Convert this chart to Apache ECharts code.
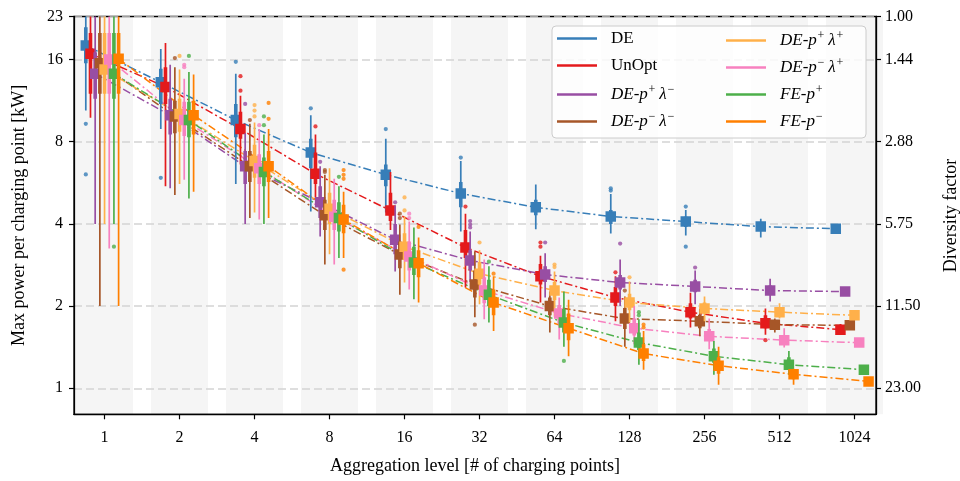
<!DOCTYPE html>
<html><head><meta charset="utf-8">
<script src="https://cdn.jsdelivr.net/npm/echarts@6/dist/echarts.min.js"></script>
<style>html,body{margin:0;padding:0;background:#fff}#c{width:960px;height:481px}</style>
</head><body><div id="c"></div>
<script>
// ---------- data ----------
const levels = [1, 2, 4, 8, 16, 32, 64, 128, 256, 512, 1024];
const yTicks = [1, 2, 4, 8, 16, 23];
const peakRef = 23; // diversity factor = peakRef / power
const seriesNames = ['DE', 'UnOpt', 'DE-p+λ-', 'DE-p-λ-', 'DE-p+λ+', 'DE-p-λ+', 'FE-p+', 'FE-p-'];
const colors = ['#377eb8', '#e41a1c', '#984ea3', '#a65628', '#ffb04a', '#f781bf', '#4daf4a', '#ff7f00'];
const dodge = [-0.25, -0.1875, -0.125, -0.0625, 0, 0.0625, 0.125, 0.1875]; // in octaves

// DE
const deMed = [18.0, 13.2, 9.6, 7.3, 6.06, 5.17, 4.6, 4.26, 4.08, 3.91, 3.84];
const deQ1  = [15.5, 11.0, 8.3, 6.4, 5.5, 4.6, 4.3, 4.0, 3.9, 3.8, 3.8];
const deQ3  = [21.0, 14.8, 11.0, 8.2, 6.6, 5.7, 4.9, 4.5, 4.25, 4.0, 3.88];
const deLo  = [10.4, 8.9, 5.6, 4.44, 4.4, 3.75, 3.82, 3.69, 3.63, 3.57, 3.74];
const deHi  = [30, 17.5, 14.2, 10.0, 8.2, 6.8, 5.58, 5.15, 4.5, 4.18, 3.95];
const deOut = [[0, 9.3], [0, 6.07], [1, 5.9], [2, 15.7], [3, 10.6], [4, 8.9], [5, 7.0], [7, 5.3], [7, 5.4], [8, 4.63], [8, 3.3]];
// UnOpt
const unMed = [16.8, 12.7, 8.9, 6.1, 4.48, 3.28, 2.57, 2.15, 1.9, 1.73, 1.64];
const unQ1  = [12.0, 11.0, 8.2, 5.6, 4.1, 3.0, 2.4, 2.0, 1.8, 1.66, 1.61];
const unQ3  = [20.0, 15.0, 10.3, 7.3, 5.2, 3.8, 2.85, 2.35, 2.05, 1.85, 1.68];
const unLo  = [9.8, 5.5, 6.6, 5.0, 3.8, 2.34, 2.06, 1.76, 1.67, 1.57, 1.58];
const unHi  = [30, 18.4, 11.8, 8.5, 6.2, 4.36, 3.06, 2.57, 2.24, 1.96, 1.72];
const unOut = [[2, 13.9], [2, 12.3], [3, 9.1], [5, 4.63], [6, 3.42], [6, 3.3], [7, 2.66], [9, 1.5]];
// DE-p+λ-
const ppmMed = [14.2, 10.0, 6.5, 4.8, 3.5, 2.94, 2.61, 2.44, 2.36, 2.28, 2.26];
const ppmQ1  = [11.5, 8.5, 5.6, 4.2, 3.1, 2.7, 2.45, 2.3, 2.25, 2.2, 2.22];
const ppmQ3  = [17.0, 11.5, 7.4, 5.5, 4.0, 3.2, 2.8, 2.6, 2.5, 2.38, 2.3];
const ppmLo  = [4.0, 5.4, 4.0, 3.6, 2.68, 2.45, 2.15, 2.0, 2.03, 2.08, 2.18];
const ppmHi  = [30, 15.3, 8.6, 6.5, 4.67, 3.75, 3.12, 2.96, 2.7, 2.52, 2.34];
const ppmOut = [[2, 11.0], [3, 6.75], [4, 4.8], [5, 3.98], [5, 3.88], [5, 4.1], [6, 3.42], [7, 3.39], [8, 2.77]];
// DE-p-λ-
const pmmMed = [15.5, 9.9, 6.5, 4.3, 3.09, 2.4, 2.0, 1.8, 1.76, 1.71, 1.7];
const pmmQ1  = [12.0, 8.6, 5.7, 3.8, 2.75, 2.15, 1.85, 1.65, 1.66, 1.65, 1.67];
const pmmQ3  = [20.0, 11.3, 7.4, 4.9, 3.45, 2.7, 2.15, 1.97, 1.86, 1.76, 1.73];
const pmmLo  = [2.0, 5.1, 4.2, 2.84, 2.2, 1.82, 1.6, 1.42, 1.55, 1.6, 1.64];
const pmmHi  = [30, 15.0, 9.3, 6.05, 3.98, 3.17, 2.26, 2.17, 1.95, 1.8, 1.75];
const pmmOut = [[1, 16.2], [2, 9.6], [3, 6.3], [3, 6.2], [4, 4.36], [4, 4.2], [5, 1.71], [7, 2.28]];
// DE-p+λ+
const pppMed = [14.7, 10.1, 6.8, 4.55, 3.3, 2.63, 2.28, 2.06, 1.96, 1.9, 1.85];
const pppQ1  = [12.0, 8.7, 5.9, 4.0, 2.95, 2.4, 2.1, 1.93, 1.88, 1.85, 1.82];
const pppQ3  = [20.0, 11.5, 7.8, 5.2, 3.7, 2.9, 2.45, 2.22, 2.06, 1.96, 1.88];
const pppLo  = [4.0, 5.6, 4.4, 3.1, 2.44, 2.03, 1.83, 1.74, 1.76, 1.8, 1.8];
const pppHi  = [30, 14.7, 9.4, 6.4, 4.26, 3.2, 2.68, 2.46, 2.17, 2.05, 1.9];
const pppOut = [[1, 16.5], [2, 10.9], [2, 10.4], [2, 9.9], [4, 5.0], [4, 4.48], [5, 3.42], [6, 2.84], [6, 2.78], [7, 2.55]];
// DE-p-λ+
const pmpMed = [16.0, 9.6, 6.4, 4.25, 3.04, 2.28, 1.88, 1.66, 1.55, 1.5, 1.47];
const pmpQ1  = [12.0, 8.4, 5.6, 3.8, 2.7, 2.05, 1.72, 1.56, 1.49, 1.46, 1.45];
const pmpQ3  = [20.0, 11.2, 7.2, 4.9, 3.45, 2.55, 2.02, 1.8, 1.65, 1.56, 1.49];
const pmpLo  = [3.25, 5.8, 4.15, 2.84, 2.3, 1.79, 1.51, 1.45, 1.39, 1.41, 1.44];
const pmpHi  = [30, 13.6, 8.9, 5.85, 4.08, 2.96, 2.15, 2.0, 1.8, 1.66, 1.5];
const pmpOut = [[1, 15.3], [1, 15.0], [2, 9.2], [4, 4.36], [4, 4.2]];
// FE-p+
const fepMed = [14.2, 9.6, 6.2, 4.2, 2.89, 2.2, 1.74, 1.47, 1.31, 1.22, 1.17];
const fepQ1  = [11.5, 8.3, 5.5, 3.75, 2.6, 2.0, 1.6, 1.38, 1.24, 1.18, 1.15];
const fepQ3  = [20.0, 11.2, 7.0, 4.8, 3.3, 2.5, 1.95, 1.6, 1.4, 1.3, 1.19];
const fepLo  = [4.0, 4.96, 4.0, 3.0, 2.12, 1.74, 1.42, 1.22, 1.12, 1.12, 1.14];
const fepHi  = [30, 14.4, 8.5, 5.5, 3.88, 2.8, 2.26, 1.79, 1.49, 1.37, 1.2];
const fepOut = [[0, 3.3], [1, 16.5], [2, 9.9], [2, 9.2], [3, 5.95], [5, 2.91], [6, 1.26], [7, 1.85], [7, 1.9]];
// FE-p-
const femMed = [16.1, 10.0, 6.5, 4.15, 2.87, 2.06, 1.66, 1.34, 1.21, 1.125, 1.06];
const femQ1  = [12.0, 8.5, 5.7, 3.7, 2.55, 1.85, 1.5, 1.26, 1.13, 1.08, 1.04];
const femQ3  = [20.0, 11.3, 7.4, 4.7, 3.2, 2.3, 1.88, 1.45, 1.3, 1.16, 1.08];
const femLo  = [2.0, 5.25, 4.2, 3.0, 2.06, 1.62, 1.31, 1.17, 1.03, 1.03, 1.02];
const femHi  = [30, 14.1, 8.9, 5.25, 3.57, 2.57, 2.11, 1.62, 1.42, 1.18, 1.1];
const femOut = [[2, 11.1], [2, 9.7], [3, 6.3], [3, 6.05], [3, 5.85], [3, 2.72], [4, 3.9], [5, 2.63], [7, 1.71], [7, 1.67]];

const allData = [
  [deMed, deQ1, deQ3, deLo, deHi, deOut],
  [unMed, unQ1, unQ3, unLo, unHi, unOut],
  [ppmMed, ppmQ1, ppmQ3, ppmLo, ppmHi, ppmOut],
  [pmmMed, pmmQ1, pmmQ3, pmmLo, pmmHi, pmmOut],
  [pppMed, pppQ1, pppQ3, pppLo, pppHi, pppOut],
  [pmpMed, pmpQ1, pmpQ3, pmpLo, pmpHi, pmpOut],
  [fepMed, fepQ1, fepQ3, fepLo, fepHi, fepOut],
  [femMed, femQ1, femQ3, femLo, femHi, femOut]
];

// ---------- chart ----------
const FONT = 'Liberation Serif';
const chart = echarts.init(document.getElementById('c'), null, {renderer: 'canvas'});
const xpos = (g, s) => levels[g] * Math.pow(2, dodge[s]);
const bandHalf = 0.38;

function renderBand(params, api) {
  const l = api.value(0);
  const cs = params.coordSys;
  const a = api.coord([l * Math.pow(2, -bandHalf), 1])[0];
  const b = api.coord([l * Math.pow(2, bandHalf), 1])[0];
  return {type: 'rect', shape: {x: a, y: cs.y, width: b - a, height: cs.height},
          style: {fill: '#f5f5f5'}};
}
function renderBox(params, api) {
  const x = api.value(0);
  const pLo = api.coord([x, api.value(1)]);
  const pQ1 = api.coord([x, api.value(2)]);
  const pMed = api.coord([x, api.value(3)]);
  const pQ3 = api.coord([x, api.value(4)]);
  const pHi = api.coord([x, api.value(5)]);
  const color = api.visual('color');
  const s = 10.5;
  return {type: 'group', children: [
    {type: 'line', shape: {x1: pLo[0], y1: pLo[1], x2: pHi[0], y2: pHi[1]}, style: {stroke: color, lineWidth: 1.7}},
    {type: 'line', shape: {x1: pQ1[0], y1: pQ1[1], x2: pQ3[0], y2: pQ3[1]}, style: {stroke: color, lineWidth: 3.6}},
    {type: 'rect', shape: {x: pMed[0] - s / 2, y: pMed[1] - s / 2, width: s, height: s}, style: {fill: color}}
  ]};
}

const series = [{
  type: 'custom', name: 'bands', silent: true, z: -1,
  renderItem: renderBand, data: levels.map(l => [l]), encode: {x: 0}
}];
seriesNames.forEach((name, s) => {
  const [med, q1, q3, lo, hi, out] = allData[s];
  series.push({
    type: 'line', name: name, color: colors[s], z: 2, symbol: 'none',
    lineStyle: {width: 1.5, type: [8, 3, 2, 3], color: colors[s]},
    data: levels.map((l, g) => [xpos(g, s), med[g]])
  });
});
seriesNames.forEach((name, s) => {
  const [med, q1, q3, lo, hi, out] = allData[s];
  series.push({
    type: 'custom', name: name + ' box', z: 3, clip: true,
    itemStyle: {color: colors[s]},
    renderItem: renderBox,
    encode: {x: 0, y: [1, 2, 3, 4, 5]},
    data: levels.map((l, g) => [xpos(g, s), lo[g], q1[g], med[g], q3[g], hi[g]])
  });
  series.push({
    type: 'scatter', name: name + ' out', z: 3, symbolSize: 4.2,
    itemStyle: {color: colors[s]},
    data: out.map(([g, v]) => [xpos(g, s), v])
  });
});

const legendPos = [[557, 30], [557, 57], [557, 84], [557, 111], [726, 30], [726, 57], [726, 84], [726, 111]];
const rich = {
  n: {fontFamily: FONT, fontSize: 17, color: '#000'},
  i: {fontFamily: FONT, fontSize: 17, fontStyle: 'italic', color: '#000'},
  s: {fontFamily: FONT, fontSize: 12, fontStyle: 'italic', color: '#000', padding: [0, 0, 9, 0]}
};
function legendFmt(name) {
  if (name === 'DE' || name === 'UnOpt') return '{n|' + name + '}';
  const m = name.match(/^(DE|FE)-p([+-])(?:λ([+-]))?$/);
  const sup = c => (c === '+' ? '+' : '\u2212');
  let str = '{i|' + m[1] + '-p}{s|' + sup(m[2]) + '}';
  if (m[3]) str += '{i|\u2009λ}{s|' + sup(m[3]) + '}';
  return str;
}
const legends = seriesNames.map((name, s) => ({
  data: [name], left: legendPos[s][0], top: legendPos[s][1], padding: 0,
  icon: 'rect', itemWidth: 40, itemHeight: 2.5, selectedMode: false,
  formatter: legendFmt,
  textStyle: {fontFamily: FONT, fontSize: 17, color: '#000', padding: [0, 0, 0, 9], rich: rich}
}));

const axisFont = {fontFamily: FONT, fontSize: 16, color: '#000'};
const option = {
  animation: false,
  backgroundColor: '#fff',
  grid: {left: 74, right: 84, top: 16.5, bottom: 66.7, show: true, borderColor: '#000', borderWidth: 1.3,
         backgroundColor: 'transparent', containLabel: false, outerBoundsMode: 'none'},
  graphic: [{
    type: 'rect', z: 50, shape: {x: 552, y: 26, width: 314, height: 112, r: 4},
    style: {fill: 'rgba(255,255,255,0.8)', stroke: '#cccccc', lineWidth: 1}
  }],
  legend: legends.map(l => Object.assign(l, {z: 60})),
  xAxis: {
    type: 'log', logBase: 2, min: 0.754, max: 1249,
    name: 'Aggregation level [# of charging points]', nameLocation: 'middle', nameGap: 43,
    nameTextStyle: {fontFamily: FONT, fontSize: 18, color: '#000'},
    axisLine: {lineStyle: {color: '#000', width: 1.3}},
    axisTick: {customValues: levels, length: 5, lineStyle: {color: '#000', width: 1.2}},
    axisLabel: Object.assign({customValues: levels, margin: 15, formatter: v => String(Math.round(v))}, axisFont),
    splitLine: {show: false}
  },
  yAxis: [{
    type: 'log', logBase: 2, min: 0.803, max: 23,
    name: 'Max power per charging point [kW]', nameLocation: 'middle', nameGap: 46,
    nameTextStyle: {fontFamily: FONT, fontSize: 18, color: '#000'},
    axisLine: {show: true, lineStyle: {color: '#000', width: 1.3}},
    axisTick: {show: true, customValues: yTicks, length: 5, lineStyle: {color: '#000', width: 1.2}},
    axisLabel: Object.assign({customValues: yTicks, margin: 11, formatter: v => String(Math.round(v))}, axisFont),
    splitLine: {show: true, lineStyle: {color: '#d4d4d4', width: 1.5, type: [8, 4]}}
  }, {
    type: 'log', logBase: 2, min: 0.803, max: 23, position: 'right',
    name: 'Diversity factor', nameLocation: 'middle', nameGap: 66,
    nameTextStyle: {fontFamily: FONT, fontSize: 18, color: '#000'},
    axisLine: {show: true, lineStyle: {color: '#000', width: 1.3}},
    axisTick: {show: true, customValues: yTicks, length: 5, lineStyle: {color: '#000', width: 1.2}},
    axisLabel: Object.assign({customValues: yTicks, margin: 9, formatter: v => (peakRef / v).toFixed(2)}, axisFont),
    splitLine: {show: false}
  }],
  series: series
};
chart.setOption(option);
</script></body></html>
